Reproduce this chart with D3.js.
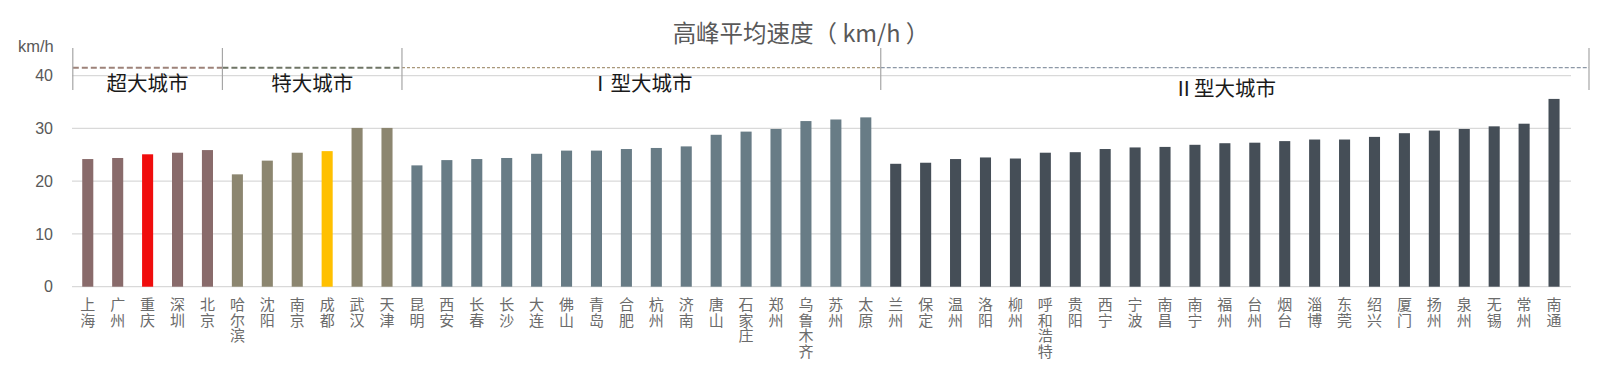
<!DOCTYPE html>
<html>
<head>
<meta charset="utf-8">
<style>
  body { margin: 0; background: #fff; }
  svg { display: block; }
  .vlabel { writing-mode: vertical-rl; text-orientation: upright; }
</style>
</head>
<body>
<svg id="chart" width="1600" height="371"></svg>
<script src="https://d3js.org/d3.v7.min.js"></script>
<script>
// categories, grouped by city class
var groupNames = ["超大城市", "特大城市", "Ⅰ型大城市", "Ⅱ型大城市"];
var groupSizes = [5, 6, 16, 23];
var cities = ["上海", "广州", "重庆", "深圳", "北京",
  "哈尔滨", "沈阳", "南京", "成都", "武汉", "天津",
  "昆明", "西安", "长春", "长沙", "大连", "佛山", "青岛", "合肥", "杭州", "济南",
  "唐山", "石家庄", "郑州", "乌鲁木齐", "苏州", "太原",
  "兰州", "保定", "温州", "洛阳", "柳州", "呼和浩特", "贵阳", "西宁", "宁波", "南昌",
  "南宁", "福州", "台州", "烟台", "淄博", "东莞", "绍兴", "厦门", "扬州", "泉州",
  "无锡", "常州", "南通"];
// peak-hour average speed, km/h
var speeds = [24.2, 24.4, 25.1, 25.4, 25.9,
  21.3, 23.9, 25.4, 25.7, 30.1, 30.1,
  23.0, 24.0, 24.2, 24.4, 25.2, 25.8, 25.8, 26.1, 26.3, 26.6,
  28.8, 29.4, 29.9, 31.4, 31.7, 32.1,
  23.3, 23.5, 24.2, 24.5, 24.3, 25.4, 25.5, 26.1, 26.4, 26.5,
  26.9, 27.2, 27.3, 27.6, 27.9, 27.9, 28.4, 29.1, 29.6, 29.9,
  30.4, 30.9, 35.6];
var yTicks = [0, 10, 20, 30, 40];
var highlight = { "重庆": "#f00d0d", "成都": "#ffc000" };

var groupColors = ["#896b6b", "#8c8670", "#687c86", "#454e57"];
var dashColors = ["#9d8279", "#6f7566", "#a8977a", "#8d98a6"];
var dashArrays = ["6,3", "6,3", "3,2", "4,2"];
var dashWidths = [2, 2, 1.2, 1.2];

var svg = d3.select("#chart");
var cjk = "'Noto Sans CJK SC', 'Noto Sans', sans-serif";
var latin = "'Liberation Sans', Arial, sans-serif";

// group index for each city
var groupOf = [];
groupSizes.forEach(function (n, g) { for (var i = 0; i < n; i++) groupOf.push(g); });

var x = d3.scaleBand()
  .domain(cities)
  .range([72.8, 1569])
  .paddingInner(0.63)
  .paddingOuter(0.315);

var y = d3.scaleLinear()
  .domain([0, 40])
  .range([286.7, 75.7]);

// gridlines
svg.append("g")
  .selectAll("line")
  .data(yTicks)
  .join("line")
  .attr("x1", 72).attr("x2", 1571)
  .attr("y1", d => y(d)).attr("y2", d => y(d))
  .attr("stroke", "#d9d9d9")
  .attr("stroke-width", 1.3);

// y axis labels
svg.append("g")
  .selectAll("text")
  .data(yTicks)
  .join("text")
  .attr("x", 53)
  .attr("y", d => y(d))
  .attr("dy", "0.36em")
  .attr("text-anchor", "end")
  .attr("font-family", latin)
  .attr("font-size", 16)
  .attr("fill", "#595959")
  .text(d => d);

svg.append("text")
  .attr("x", 18).attr("y", 46).attr("dy", "0.36em")
  .attr("font-family", latin)
  .attr("font-size", 16.5)
  .attr("fill", "#595959")
  .text("km/h");

// title
svg.append("text")
  .attr("x", 801).attr("y", 34).attr("dy", "0.36em")
  .attr("text-anchor", "middle")
  .attr("font-family", cjk)
  .attr("font-size", 23.5)
  .attr("fill", "#595959")
  .text("高峰平均速度（ km/h ）");

// bars
svg.append("g")
  .selectAll("rect")
  .data(cities)
  .join("rect")
  .attr("x", d => x(d))
  .attr("width", x.bandwidth())
  .attr("y", (d, i) => y(speeds[i]))
  .attr("height", (d, i) => y(0) - y(speeds[i]))
  .attr("fill", (d, i) => highlight[d] || groupColors[groupOf[i]]);

// vertical category labels
var step = x.step();
svg.append("g")
  .selectAll("text")
  .data(cities)
  .join("text")
  .attr("class", "vlabel")
  .attr("x", d => x(d) + x.bandwidth() / 2)
  .attr("y", 297)
  .attr("font-family", cjk)
  .attr("font-size", 15)
  .attr("letter-spacing", 0.6)
  .attr("fill", "#6b6b6b")
  .text(d => d);

// group boundaries, dashed reference lines, group labels
var starts = [];
var acc = 0;
groupSizes.forEach(function (n) { starts.push(acc); acc += n; });
var bounds = starts.map(i => x(cities[i]) - (step - x.bandwidth()) / 2);
bounds.push(1589);

var deco = svg.append("g");
groupNames.forEach(function (name, g) {
  deco.append("line")
    .attr("x1", bounds[g]).attr("x2", bounds[g + 1])
    .attr("y1", 67.7).attr("y2", 67.7)
    .attr("stroke", dashColors[g])
    .attr("stroke-width", dashWidths[g])
    .attr("stroke-dasharray", dashArrays[g]);
  deco.append("text")
    .attr("x", (bounds[g] + bounds[g + 1]) / 2 + (g === 3 ? -10 : 0))
    .attr("y", g === 3 ? 88.5 : 83.5)
    .attr("dy", "0.36em")
    .attr("text-anchor", "middle")
    .attr("font-family", cjk)
    .attr("font-size", 20.5)
    .attr("fill", "#1a1a1a")
    .text(name);
});
deco.selectAll("line.div")
  .data(bounds)
  .join("line")
  .attr("class", "div")
  .attr("x1", d => d).attr("x2", d => d)
  .attr("y1", 48).attr("y2", 90)
  .attr("stroke", "#a6a6a6")
  .attr("stroke-width", 1.2);
</script>
</body>
</html>
